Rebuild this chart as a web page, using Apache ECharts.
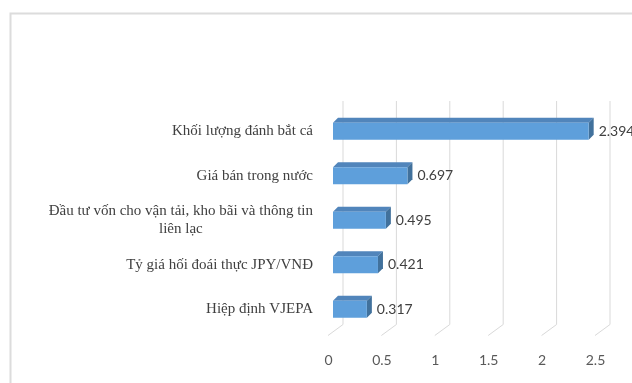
<!DOCTYPE html>
<html>
<head>
<meta charset="utf-8">
<script src="https://cdn.jsdelivr.net/npm/echarts@6/dist/echarts.min.js"></script>
<style>
  html, body { margin: 0; padding: 0; background: #fff; }
  #chart1 { width: 632px; height: 383px; }
</style>
</head>
<body>
<div id="chart1"></div>
<script>
// categories from bottom to top
var categories = [
    'Hiệp định VJEPA',
    'Tỷ giá hối đoái thực JPY/VNĐ',
    'Đầu tư vốn cho vận tải, kho bãi và thông tin\nliên lạc',
    'Giá bán trong nước',
    'Khối lượng đánh bắt cá'
];
var values = [0.317, 0.421, 0.495, 0.697, 2.394];
var tickValues = [0, 0.5, 1, 1.5, 2, 2.5];

var dom1 = document.getElementById('chart1');
var Chart1 = echarts.init(dom1);

// back wall gridlines + floor diagonals
function wallItem(params, api) {
    var cs = params.coordSys;
    var v = api.value(0);
    var p = api.coord([v, 0]);
    var xb = p[0] + 10;
    var top = cs.y - 8;
    var bot = cs.y + cs.height - 7;
    var style = { stroke: '#d9d9d9', lineWidth: 1 };
    return {
        type: 'group',
        children: [
            { type: 'line', shape: { x1: xb, y1: top, x2: xb, y2: bot }, style: style },
            { type: 'line', shape: { x1: xb, y1: bot, x2: xb - 15, y2: bot + 11 }, style: style }
        ]
    };
}

// 3d-ish bar: front face, top face, side face, value label
function barItem(params, api) {
    var idx = api.value(0);
    var val = api.value(1);
    var s = api.coord([0, idx]);
    var e = api.coord([val, idx]);
    var h = 17, d = 5;
    var x0 = s[0], x1 = e[0];
    var y = s[1] - h / 2;
    return {
        type: 'group',
        children: [
            { type: 'polygon', shape: { points: [[x0, y], [x0 + d, y - d], [x1 + d, y - d], [x1, y]] },
              style: { fill: '#5185bb' } },
            { type: 'polygon', shape: { points: [[x1, y], [x1 + d, y - d], [x1 + d, y - d + h], [x1, y + h]] },
              style: { fill: '#41719c' } },
            { type: 'rect', shape: { x: x0, y: y, width: x1 - x0, height: h },
              style: { fill: '#5e9fdb' } },
            { type: 'text', x: x1 + d + 5, y: s[1],
              style: { text: val.toFixed(3), fill: '#404040', font: '14px Lato',
                       verticalAlign: 'middle', align: 'left' } }
        ]
    };
}

var barData = [];
for (var i = 0; i < values.length; i++) {
    barData.push([i, values[i]]);
}

var option1 = {
    animation: false,
    backgroundColor: '#fff',
    graphic: [{
        type: 'rect',
        shape: { x: 10.5, y: 13.5, width: 700, height: 400 },
        style: { fill: 'none', stroke: '#dcdcdc', lineWidth: 2 },
        silent: true
    }],
    grid: {
        left: 333,
        right: 32,
        top: 109,
        bottom: 51.5
    },
    xAxis: {
        type: 'value',
        min: 0,
        max: 2.5,
        interval: 0.5,
        axisLine: { show: false },
        axisTick: { show: false },
        splitLine: { show: false },
        axisLabel: {
            margin: 22,
            color: '#595959',
            fontFamily: 'Lato',
            fontSize: 14,
            padding: [0, 9, 0, 0]
        }
    },
    yAxis: {
        type: 'category',
        data: categories,
        axisLine: { show: false },
        axisTick: { show: false },
        axisLabel: {
            margin: 20,
            color: '#404040',
            fontFamily: 'Liberation Serif',
            fontSize: 15,
            lineHeight: 18,
            formatter: function (v) {
                return v.split('\n').map(function (l) { return '{c|' + l + '}'; }).join('\n');
            },
            rich: {
                c: { align: 'center', fontFamily: 'Liberation Serif', fontSize: 15, color: '#404040', lineHeight: 18 }
            }
        }
    },
    series: [
        {
            name: 'wall',
            type: 'custom',
            renderItem: wallItem,
            data: tickValues.map(function (t) { return [t]; }),
            encode: { x: 0 },
            clip: false,
            silent: true,
            z: 1
        },
        {
            name: 'bars',
            type: 'custom',
            renderItem: barItem,
            data: barData,
            encode: { y: 0, x: 1 },
            clip: false,
            z: 2
        }
    ]
};

Chart1.setOption(option1);
</script>
</body>
</html>
